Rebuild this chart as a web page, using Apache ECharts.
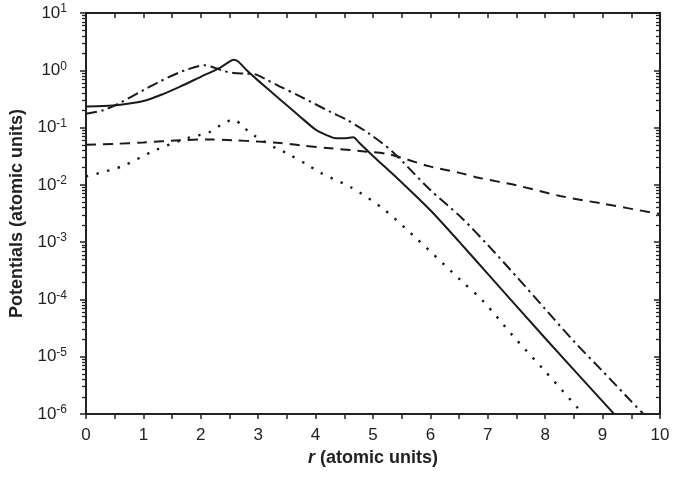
<!DOCTYPE html>
<html>
<head>
<meta charset="utf-8">
<script src="https://cdn.jsdelivr.net/npm/echarts@6/dist/echarts.min.js"></script>
<style>html,body{margin:0;padding:0;background:#fff}#c{width:695px;height:477px}</style>
</head>
<body>
<div id="c"></div>
<script>
// r (atomic units), potential (atomic units)
const solidData = [[0,0.234],[0.3,0.238],[0.6,0.25],[1.0,0.29],[1.3,0.37],[1.64,0.52],[2.0,0.77],[2.33,1.1],[2.5,1.42],[2.57,1.52],[2.65,1.42],[2.8,1.0],[3.0,0.66],[3.38,0.31],[3.73,0.155],[4.0,0.092],[4.2,0.073],[4.35,0.065],[4.5,0.065],[4.66,0.068],[4.75,0.0556],[5.0,0.032],[5.5,0.011],[6.0,3.6e-3],[6.5,1.02e-3],[7,2.8e-4],[8,2.1e-5],[9,1.66e-6],[9.2,1.0e-6]];
const dashDotData = [[0,0.175],[0.3,0.2],[0.59,0.27],[1.0,0.45],[1.29,0.64],[1.7,0.98],[2.07,1.22],[2.25,1.1],[2.4,0.97],[2.57,0.9],[2.8,0.87],[2.97,0.84],[3.15,0.68],[3.38,0.52],[3.73,0.35],[3.9,0.287],[4.25,0.19],[4.54,0.137],[4.92,0.08],[5.33,0.0385],[5.99,8.3e-3],[6.52,2.8e-3],[7,8.9e-4],[7.5,2.5e-4],[8,6.8e-5],[8.5,1.86e-5],[9,5.6e-6],[9.5,1.66e-6],[9.71,1.0e-6]];
const dashedData = [[0,0.05],[0.5,0.052],[1,0.055],[1.64,0.06],[2.1,0.062],[2.57,0.06],[3.0,0.057],[3.38,0.054],[3.73,0.049],[4.2,0.044],[4.89,0.038],[5.3,0.0337],[5.99,0.021],[6.51,0.0162],[6.86,0.0132],[7.5,9.8e-3],[8.26,6.4e-3],[9,4.7e-3],[10,3.1e-3]];
const dottedData = [[0,0.014],[0.62,0.021],[1.2,0.04],[1.78,0.066],[1.96,0.073],[2.16,0.084],[2.36,0.112],[2.57,0.138],[2.75,0.1],[2.91,0.075],[3.32,0.043],[3.49,0.036],[3.87,0.022],[4.07,0.0165],[4.63,8.9e-3],[5.18,3.8e-3],[5.76,1.15e-3],[6.52,2.2e-4],[6.92,9.3e-5],[7.44,2.3e-5],[7.97,6e-6],[8.66,1e-6]];

const xTickValues = [0,1,2,3,4,5,6,7,8,9,10];
const yDecades = [1e-6,1e-5,1e-4,1e-3,1e-2,1e-1,1e0,1e1];
const yMinorMultipliers = [2,3,4,5,6,7,8,9];

// minor tick positions as exponents (log10) for tick-only helper axes
const yMinorExponents = [];
for (let i = 0; i < yDecades.length - 1; i++) {
  for (const m of yMinorMultipliers) yMinorExponents.push(Math.log10(yDecades[i] * m));
}

const C = '#222';
const FONT = 'Liberation Sans, Arial, sans-serif';
const ymin = 1e-6, ymax = 10;

function yLab(v) {
  const e = Math.round(Math.log10(v));
  return '{b|10}{e|' + e + '}';
}

function minorAxis(pos, inside) {
  return {
    type: 'value', min: -6, max: 1, position: pos,
    axisLine: {show: true, onZero: false, lineStyle: {color: 'rgba(0,0,0,0)'}},
    axisLabel: {show: false},
    axisTick: {show: true, inside: inside, length: 4, customValues: yMinorExponents, lineStyle: {color: C, width: 1.3}},
    splitLine: {show: false}
  };
}

const option = {
  animation: false,
  backgroundColor: '#fff',
  grid: {left: 86, right: 35, top: 13, bottom: 63},
  xAxis: [
    {
      type: 'value', min: 0, max: 10, interval: 1, position: 'bottom',
      axisLine: {show: true, onZero: false, lineStyle: {color: C, width: 2}},
      axisTick: {show: true, inside: false, length: 5, lineStyle: {color: C, width: 1.5}},
      minorTick: {show: true, splitNumber: 2, length: 5, lineStyle: {color: C, width: 1.5}},
      axisLabel: {color: C, fontSize: 17, fontFamily: FONT, margin: 13},
      splitLine: {show: false},
      name: '{i|r} (atomic units)', nameLocation: 'middle', nameGap: 29,
      nameTextStyle: {color: C, fontSize: 18, fontWeight: 'bold', fontFamily: FONT,
        rich: {i: {fontStyle: 'italic', fontWeight: 'bold', fontSize: 18, fontFamily: FONT, color: C}}}
    },
    {
      type: 'value', min: 0, max: 10, interval: 1, position: 'top',
      axisLine: {show: true, onZero: false, lineStyle: {color: C, width: 2}},
      axisTick: {show: true, inside: true, length: 5, lineStyle: {color: C, width: 1.5}},
      minorTick: {show: true, splitNumber: 2, length: 5, lineStyle: {color: C, width: 1.5}},
      axisLabel: {show: false}, splitLine: {show: false}
    }
  ],
  yAxis: [
    {
      type: 'log', logBase: 10, min: ymin, max: ymax, splitNumber: 7, position: 'left',
      axisLine: {show: true, onZero: false, lineStyle: {color: C, width: 2}},
      axisTick: {show: true, inside: false, length: 6, lineStyle: {color: C, width: 1.5}},
      axisLabel: {
        formatter: yLab, margin: 19, color: C, fontFamily: FONT,
        rich: {
          b: {fontSize: 17, lineHeight: 20, color: C, fontFamily: FONT},
          e: {fontSize: 12, lineHeight: 12, verticalAlign: 'top', color: C, fontFamily: FONT}
        }
      },
      splitLine: {show: false},
      name: 'Potentials (atomic units)', nameLocation: 'middle', nameGap: 49,
      nameTextStyle: {color: C, fontSize: 18, fontWeight: 'bold', fontFamily: FONT}
    },
    {
      type: 'log', logBase: 10, min: ymin, max: ymax, splitNumber: 7, position: 'right',
      axisLine: {show: true, onZero: false, lineStyle: {color: C, width: 2}},
      axisTick: {show: true, inside: true, length: 6, lineStyle: {color: C, width: 1.5}},
      axisLabel: {show: false},
      splitLine: {show: false}
    },
    minorAxis('left', false),
    minorAxis('right', true)
  ],
  series: [
    {type: 'line', data: dashedData, symbol: 'none', smooth: 0.3, lineStyle: {color: '#1a1a1a', width: 2, type: [10, 7]}},
    {type: 'line', data: dottedData, symbol: 'none', smooth: 0.3, lineStyle: {color: '#1a1a1a', width: 2.4, type: [2.4, 8.5]}},
    {type: 'line', data: dashDotData, symbol: 'none', smooth: 0.3, lineStyle: {color: '#1a1a1a', width: 2, type: [11, 4.5, 2.5, 4.5]}},
    {type: 'line', data: solidData, symbol: 'none', smooth: 0.25, lineStyle: {color: '#1a1a1a', width: 2}}
  ]
};

const chart = echarts.init(document.getElementById('c'), null, {renderer: 'canvas'});
chart.setOption(option);
</script>
</body>
</html>
